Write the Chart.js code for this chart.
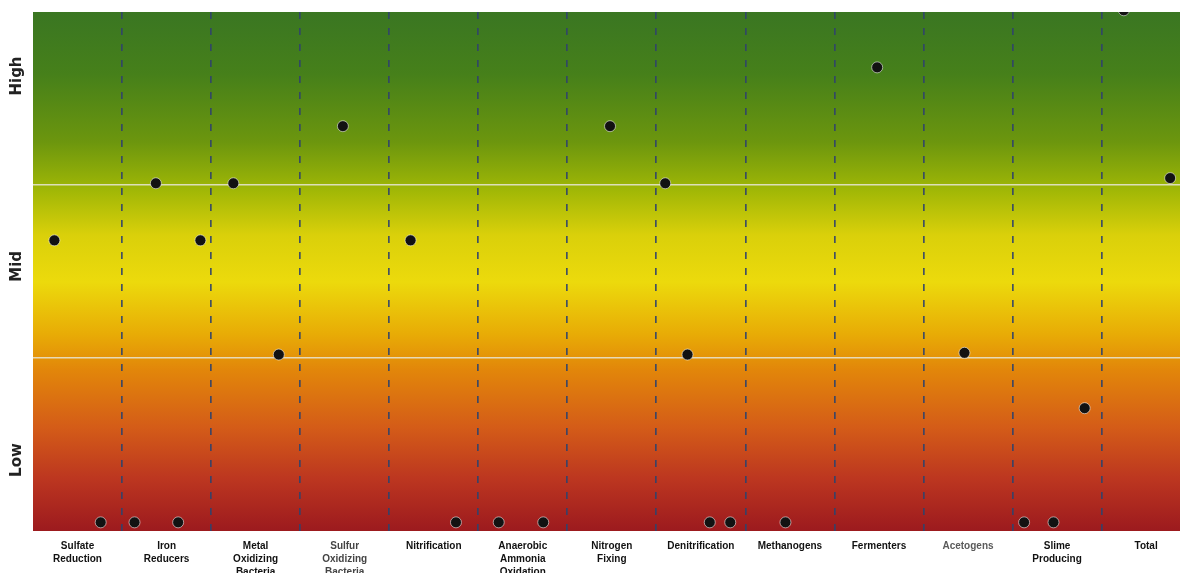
<!DOCTYPE html>
<html>
<head>
<meta charset="utf-8">
<script src="https://cdn.jsdelivr.net/npm/chart.js@4/dist/chart.umd.min.js"></script>
<style>
  html, body { margin: 0; padding: 0; background: #ffffff; overflow: hidden; }
  #wrap { width: 1190px; height: 573px; position: relative; }
  canvas { display: block; }
</style>
</head>
<body>
<div id="wrap"><canvas id="c"></canvas></div>
<script>
// Categories (x-axis labels, multi-line)
const categories = [
  ['Sulfate', 'Reduction'],
  ['Iron', 'Reducers'],
  ['Metal', 'Oxidizing', 'Bacteria'],
  ['Sulfur', 'Oxidizing', 'Bacteria'],
  ['Nitrification'],
  ['Anaerobic', 'Ammonia', 'Oxidation'],
  ['Nitrogen', 'Fixing'],
  ['Denitrification'],
  ['Methanogens'],
  ['Fermenters'],
  ['Acetogens'],
  ['Slime', 'Producing'],
  ['Total']
];

// Point positions: x in category units (category i spans i..i+1), y on 0 (Low) .. 3 (High)
const pointX = [0.24, 0.76, 1.14, 1.38, 1.63, 1.88, 2.25, 2.76, 3.48, 4.24, 4.75, 5.23, 5.73,
                6.48, 7.10, 7.35, 7.60, 7.83, 8.45, 9.48, 10.46, 11.13, 11.46, 11.81, 12.25, 12.77];
const pointY = [1.68, 0.05, 0.05, 2.01, 0.05, 1.68, 2.01, 1.02, 2.34, 1.68, 0.05, 0.05, 0.05,
                2.34, 2.01, 1.02, 0.05, 0.05, 0.05, 2.68, 1.03, 0.05, 0.05, 0.71, 3.01, 2.04];

// Y-axis level labels
const yLevelLabels = ['Low', 'Mid', 'High'];
const yLevelValues = [0.41, 1.53, 2.63];

const points = pointX.map((x, i) => ({ x: x, y: pointY[i] }));

const bgPlugin = {
  id: 'bgGradient',
  beforeDraw(chart) {
    const { ctx, chartArea: a } = chart;
    const g = ctx.createLinearGradient(0, a.top, 0, a.bottom);
    g.addColorStop(0.00, 'rgb(58,118,34)');
    g.addColorStop(0.12, 'rgb(70,128,26)');
    g.addColorStop(0.25, 'rgb(108,150,14)');
    g.addColorStop(0.34, 'rgb(158,182,6)');
    g.addColorStop(0.43, 'rgb(218,208,10)');
    g.addColorStop(0.52, 'rgb(236,218,12)');
    g.addColorStop(0.62, 'rgb(232,172,6)');
    g.addColorStop(0.69, 'rgb(226,134,10)');
    g.addColorStop(0.80, 'rgb(212,92,24)');
    g.addColorStop(0.90, 'rgb(188,54,32)');
    g.addColorStop(1.00, 'rgb(156,26,30)');
    ctx.save();
    ctx.fillStyle = g;
    ctx.fillRect(a.left, a.top, a.right - a.left, a.bottom - a.top);
    ctx.restore();
  }
};

const yLabelPlugin = {
  id: 'yLevelLabels',
  afterDraw(chart) {
    const { ctx } = chart;
    const ys = chart.scales.y;
    ctx.save();
    ctx.font = 'bold 15px "DejaVu Sans", sans-serif';
    ctx.fillStyle = '#222';
    ctx.textAlign = 'center';
    ctx.textBaseline = 'middle';
    yLevelLabels.forEach((t, i) => {
      const py = ys.getPixelForValue(yLevelValues[i]);
      ctx.save();
      ctx.translate(17, py);
      ctx.rotate(-Math.PI / 2);
      ctx.fillText(t, 0, 0);
      ctx.restore();
    });
    ctx.restore();
  }
};

const X_MAX = 12.92;

new Chart(document.getElementById('c'), {
  type: 'scatter',
  data: {
    datasets: [{
      data: points,
      pointRadius: 5.5,
      pointHoverRadius: 5.5,
      pointBackgroundColor: '#121212',
      pointBorderColor: 'rgba(255,255,255,0.55)',
      pointBorderWidth: 1
    }]
  },
  options: {
    responsive: true,
    maintainAspectRatio: false,
    animation: false,
    layout: { padding: { left: 33, top: 12, right: 0, bottom: 0 } },
    plugins: { legend: { display: false }, tooltip: { enabled: false } },
    scales: {
      x: {
        type: 'linear',
        min: 0, max: X_MAX,
        position: 'bottom',
        afterBuildTicks(scale) {
          scale.ticks = categories.map((c, i) => ({ value: i + 0.5 }));
        },
        afterFit(scale) { scale.height = 42; },
        grid: { display: false, drawTicks: false },
        border: { display: false },
        ticks: {
          autoSkip: false,
          maxRotation: 0,
          minRotation: 0,
          padding: 9,
          font: { family: '"Liberation Sans", Arial, sans-serif', size: 10, weight: 'bold', lineHeight: 1.3 },
          color(ctx) {
            const i = ctx.index;
            if (i === 10) return '#5a5a5a';
            if (i === 3) return '#444';
            return '#111';
          },
          callback(value, index) { return categories[index]; }
        }
      },
      xg: {
        type: 'linear',
        min: 0, max: X_MAX,
        position: 'top',
        afterBuildTicks(scale) {
          const t = [];
          for (let i = 1; i < categories.length; i++) t.push({ value: i });
          scale.ticks = t;
        },
        afterFit(scale) { scale.height = 0; },
        ticks: { display: false },
        grid: {
          drawTicks: false,
          color: 'rgba(48,66,108,0.9)',
          lineWidth: 1.7,
          tickLength: 0
        },
        border: { display: false, dash: [7, 9] }
      },
      y: {
        type: 'linear',
        min: 0, max: 3,
        afterBuildTicks(scale) {
          scale.ticks = [{ value: 1 }, { value: 2 }];
        },
        afterFit(scale) { scale.width = 0; },
        ticks: { display: false },
        border: { display: false },
        grid: {
          drawTicks: false,
          color: 'rgba(232,230,215,0.85)',
          lineWidth: 1.5
        }
      }
    }
  },
  plugins: [bgPlugin, yLabelPlugin]
});
</script>
</body>
</html>
